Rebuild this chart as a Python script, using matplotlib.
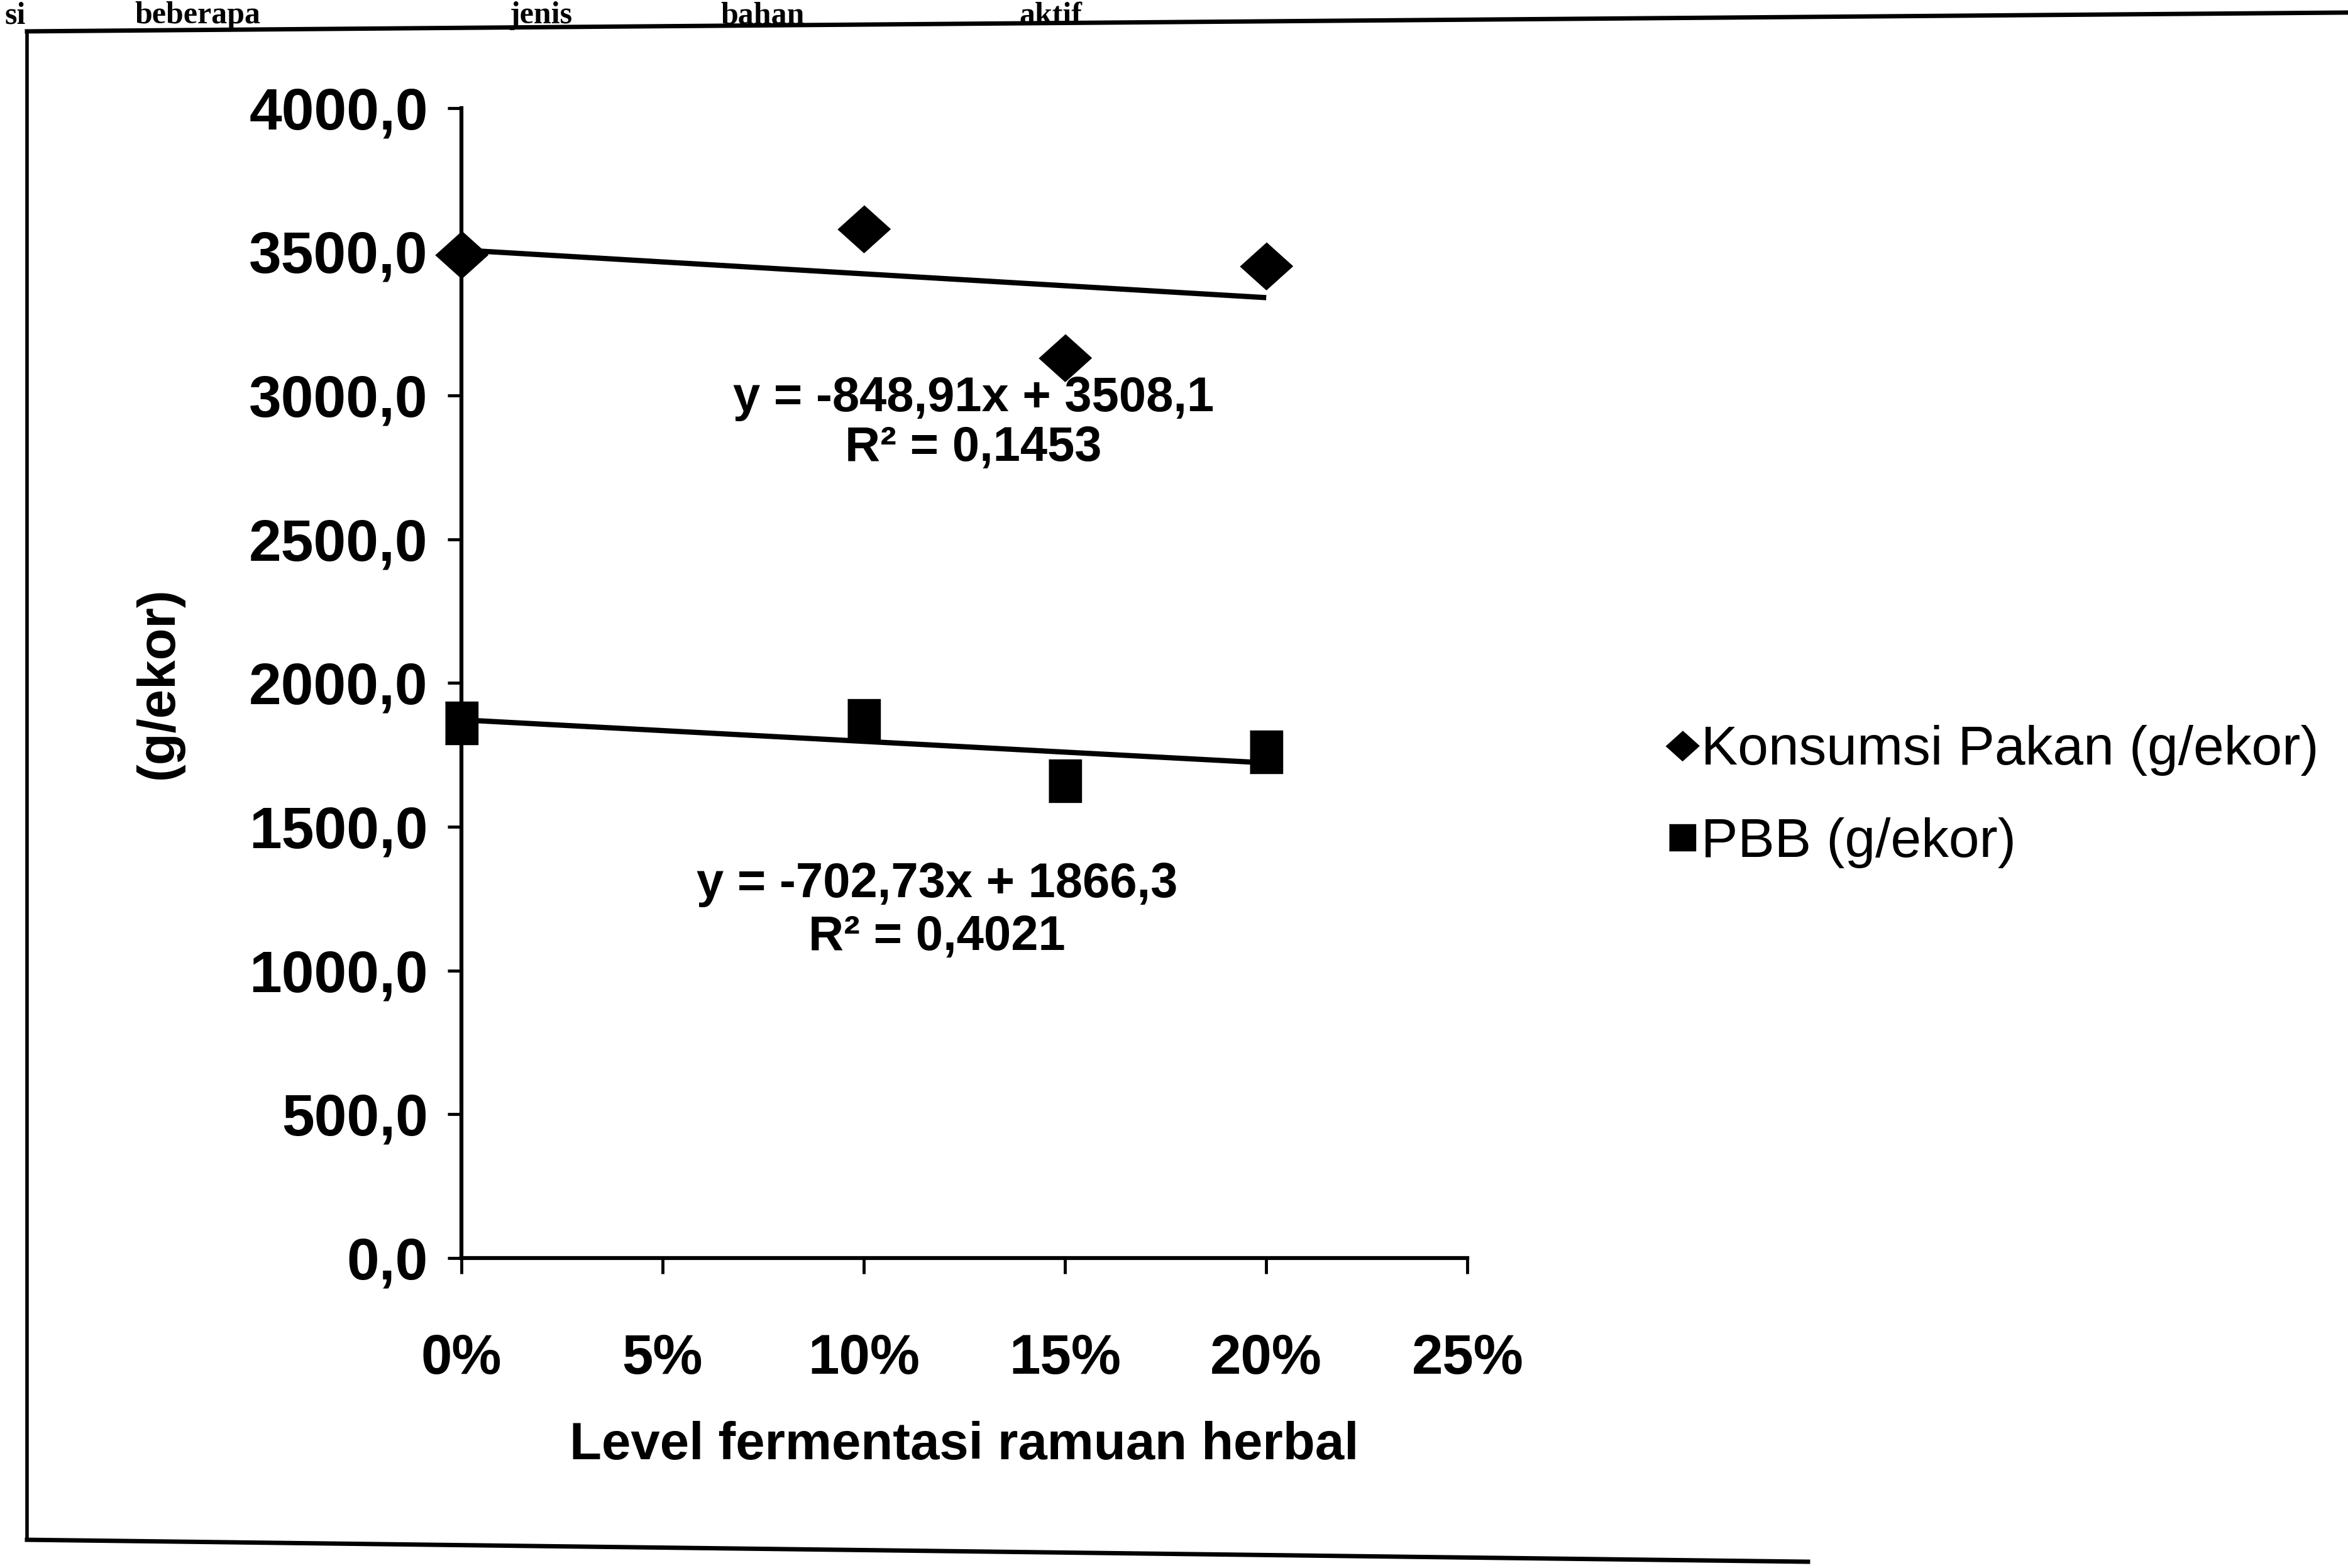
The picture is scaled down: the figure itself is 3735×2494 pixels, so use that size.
import numpy as np
import matplotlib.pyplot as plt
from matplotlib.lines import Line2D

# data
level = [0.00, 0.10, 0.15, 0.20]
konsumsi = [3490, 3580, 3130, 3450]
pbb = [1860, 1870, 1660, 1760]

eq_konsumsi = 'y = -848,91x + 3508,1\nR² = 0,1453'
eq_pbb = 'y = -702,73x + 1866,3\nR² = 0,4021'

yticks = [0, 500, 1000, 1500, 2000, 2500, 3000, 3500, 4000]
xticks = [0.00, 0.05, 0.10, 0.15, 0.20, 0.25]

series_names = ['Konsumsi Pakan (g/ekor)', 'PBB (g/ekor)']
page_words = ['si', 'beberapa', 'jenis', 'bahan', 'aktif']
page_word_x = [0.0, 0.0554, 0.215, 0.305, 0.432]

plt.rcParams['font.family'] = ['Liberation Sans', 'DejaVu Sans']

diamond = [(0, 0.9), (1, 0), (0, -0.9), (-1, 0)]
rect = [(-0.76, 1), (0.76, 1), (0.76, -1), (-0.76, -1)]
square = [(-1, 1), (1, 1), (1, -1), (-1, -1)]

fig = plt.figure(figsize=(37.35, 24.94), dpi=100)
ax = fig.add_axes([0.1964, 0.1977, 0.4286, 0.7335])

# trend lines (linear fit)
xs = np.array([0.0, 0.20])
for ys in (konsumsi, pbb):
    a, b = np.polyfit(level, ys, 1)
    ax.plot(xs, a * xs + b, color='black', lw=6, solid_capstyle='butt', zorder=2)

ax.plot(level, konsumsi, ls='none', marker=diamond, ms=60, color='black',
        clip_on=False, zorder=3)
ax.plot(level, pbb, ls='none', marker=rect, ms=49, color='black',
        clip_on=False, zorder=3)

ax.set_xlim(0, 0.25)
ax.set_ylim(0, 4000)
ax.set_xticks(xticks)
ax.set_xticklabels([f'{int(round(v * 100))}%' for v in xticks],
                   fontsize=64, fontweight='bold')
ax.set_yticks(yticks)
ax.set_yticklabels([f'{v:.1f}'.replace('.', ',') for v in yticks],
                   fontsize=67, fontweight='bold')
ax.tick_params(axis='y', direction='out', length=16, width=3.5, pad=22)
ax.tick_params(axis='x', direction='out', length=18, width=3.5, pad=68)

for s in ('top', 'right'):
    ax.spines[s].set_visible(False)
for s in ('left', 'bottom'):
    ax.spines[s].set_linewidth(4.5)

ax.set_xlabel('Level fermentasi ramuan herbal', fontsize=60,
              fontweight='bold', labelpad=40)
ax.set_ylabel('(g/ekor)', fontsize=60, fontweight='bold', labelpad=75)

ax.text(0.509, 0.726, eq_konsumsi, transform=ax.transAxes, ha='center',
        va='center', fontsize=56, fontweight='bold', linespacing=1.1)
ax.text(0.473, 0.302, eq_pbb, transform=ax.transAxes, ha='center',
        va='center', fontsize=56, fontweight='bold', linespacing=1.2)

handles = [Line2D([], [], ls='none', marker=diamond, ms=38, color='black'),
           Line2D([], [], ls='none', marker=square, ms=30, color='black')]
fig.legend(handles, series_names, loc='center left',
           bbox_to_anchor=(0.690, 0.492), frameon=False, fontsize=63,
           handlelength=0.45, handletextpad=0.12, labelspacing=0.75)

# border of the scanned figure
fig.add_artist(Line2D([0.0115, 1.0], [0.980, 0.992], color='black', lw=5,
                      transform=fig.transFigure))
fig.add_artist(Line2D([0.0115, 0.0115], [0.018, 0.980], color='black', lw=4,
                      transform=fig.transFigure))
fig.add_artist(Line2D([0.0115, 0.77], [0.018, 0.004], color='black', lw=5,
                      transform=fig.transFigure))

# page text at the top of the scan
for word, wx in zip(page_words, page_word_x):
    fig.text(wx + 0.002, 0.999, word, fontsize=36, family='Liberation Serif',
             fontweight='bold', ha='left', va='top')

fig.savefig('out.png', dpi=100, facecolor='white')
